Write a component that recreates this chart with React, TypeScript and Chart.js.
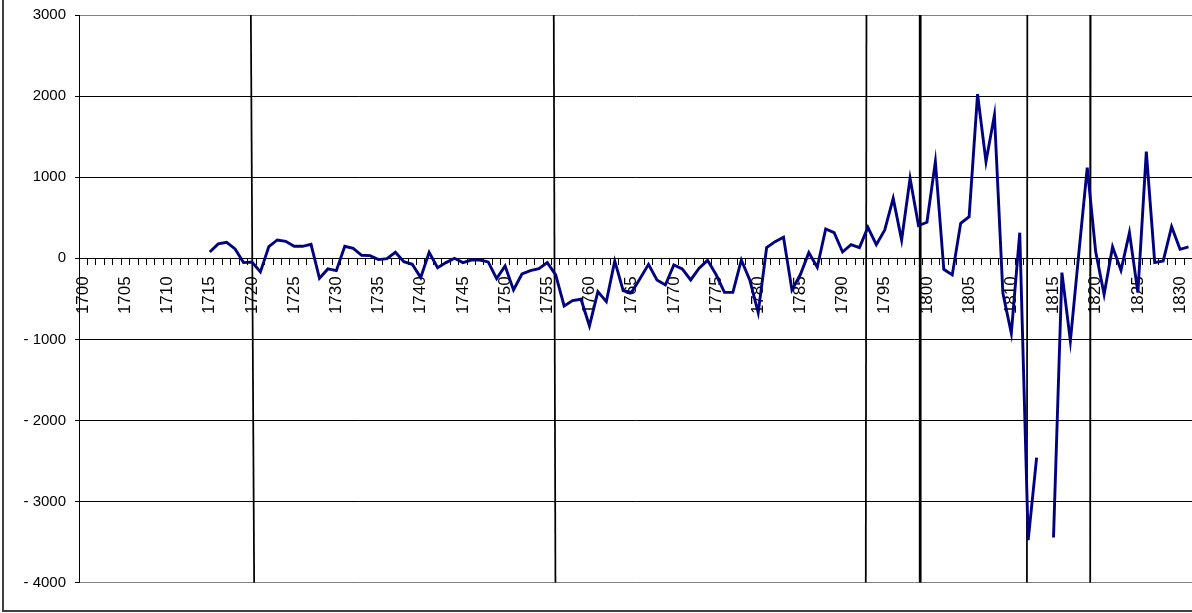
import React, { useEffect, useRef } from 'react';
import { Chart, registerables } from 'chart.js';

Chart.register(...registerables);

// Category axis: years 1700 .. 1831
const firstCategoryYear = 1700;
const lastCategoryYear = 1831;
const labelEvery = 5;

// Series values, one per year, starting at 1715 (null = missing year)
const firstDataYear = 1715;
const values: (number | null)[] = [
  78, 177, 197, 115, -53, -45, -168, 144, 226, 210, // 1715-1724
  148, 148, 172, -246, -131, -152, 148, 123, 37, 33, // 1725-1734
  -16, -4, 74, -41, -74, -238, 74, -115, -53, 0, // 1735-1744
  -53, -21, -21, -45, -250, -94, -390, -193, -152, -127, // 1745-1754
  -53, -205, -587, -522, -505, -834, -411, -534, -33, -400, // 1755-1764
  -420, -250, -75, -267, -329, -82, -131, -267, -123, -25, // 1765-1774
  -200, -420, -420, -20, -267, -670, 131, 205, 259, -390, // 1775-1784
  -200, 70, -111, 361, 316, 78, 168, 131, 382, 168, // 1785-1794
  349, 739, 226, 986, 403, 444, 1191, -136, -205, 431, // 1795-1804
  513, 2025, 1191, 1766, -430, -924, 316, -3475, -2457, null, // 1805-1814
  -3442, -177, -1019, 60, 1117, 80, -444, 140, -148, 316, // 1815-1824
  -423, 1315, -53, -33, 390, 111, 140, // 1825-1831
];

// Vertical event lines (year position at top and at bottom of the plot)
const eventTop = [1719.87, 1755.77, 1792.83, 1799.2, 1811.9, 1819.4];
const eventBottom = [1720.26, 1755.97, 1792.75, 1799.2, 1811.85, 1819.35];

// Value axis
const yMin = -4000;
const yMax = 3000;
const yStep = 1000;

const FONT = '"Liberation Sans", Arial, sans-serif';

export default function App() {
  const ref = useRef<HTMLCanvasElement>(null);

  useEffect(() => {
    const canvas = ref.current;
    if (!canvas) return;

    const years: number[] = [];
    for (let y = firstCategoryYear; y <= lastCategoryYear; y++) years.push(y);
    const labels = years.map(String);
    const series = years.map((y) => {
      const i = y - firstDataYear;
      return i >= 0 && i < values.length ? values[i] : null;
    });

    const eventSets = eventTop.map((t, i) => ({
      type: 'line' as const,
      data: [
        { x: t, y: yMax },
        { x: eventBottom[i], y: yMin },
      ],
      xAxisID: 'xe',
      borderColor: '#000',
      borderWidth: i === 3 ? 2.75 : 1.75,
      pointRadius: 0,
      fill: false,
      order: 1,
    }));

    const chart = new Chart(canvas, {
      type: 'line',
      data: {
        labels,
        datasets: [
          {
            data: series,
            xAxisID: 'x',
            borderColor: '#000080',
            borderWidth: 2.9,
            pointRadius: 0,
            fill: false,
            spanGaps: false,
            tension: 0,
            order: 0,
          } as any,
          ...(eventSets as any[]),
        ],
      },
      options: {
        animation: false,
        responsive: false,
        maintainAspectRatio: false,
        events: [],
        layout: { padding: { left: 0, top: 15, right: 17.6, bottom: 30.3 } },
        plugins: { legend: { display: false }, tooltip: { enabled: false } },
        scales: {
          x: {
            type: 'category',
            position: { y: 0 } as any,
            offset: true,
            grid: {
              offset: true,
              drawOnChartArea: false,
              drawTicks: true,
              tickLength: 6,
              color: '#000',
              lineWidth: 1,
            },
            border: { display: true, color: '#000', width: 1 },
            ticks: {
              autoSkip: false,
              minRotation: 90,
              maxRotation: 90,
              padding: 12,
              color: '#000',
              font: { family: FONT, size: 17 },
              callback: (_v: any, i: number) => (i % labelEvery === 0 ? labels[i] : ''),
            },
          },
          xe: {
            type: 'linear',
            display: false,
            min: firstCategoryYear - 0.5,
            max: lastCategoryYear + 0.5,
          },
          y: {
            type: 'linear',
            min: yMin,
            max: yMax,
            ticks: {
              stepSize: yStep,
              padding: 9,
              color: '#000',
              font: { family: FONT, size: 15, lineHeight: 0.8 },
              callback: (v: any) => (Number(v) < 0 ? '- ' + Math.abs(Number(v)) : String(v)),
            },
            grid: {
              color: (c: any) =>
                c.tick && (c.tick.value === yMax || c.tick.value === yMin) ? '#808080' : '#000',
              tickColor: '#000',
              tickLength: 4,
              lineWidth: 1,
            },
            border: { display: true, color: '#000', width: 1 },
            afterFit: (s: any) => {
              s.width = 79;
            },
          },
        },
      } as any,
    });

    return () => chart.destroy();
  }, []);

  return (
    <div
      style={{
        position: 'fixed',
        left: 0,
        top: 0,
        width: 1192,
        height: 613,
        overflow: 'hidden',
        background: '#fff',
      }}
    >
      <canvas ref={ref} width={1221} height={613} style={{ display: 'block' }} />
      <div
        style={{
          position: 'absolute',
          left: 2,
          top: -10,
          width: 1300,
          height: 622,
          border: '2px solid #404040',
          boxSizing: 'border-box',
          pointerEvents: 'none',
        }}
      />
    </div>
  );
}
